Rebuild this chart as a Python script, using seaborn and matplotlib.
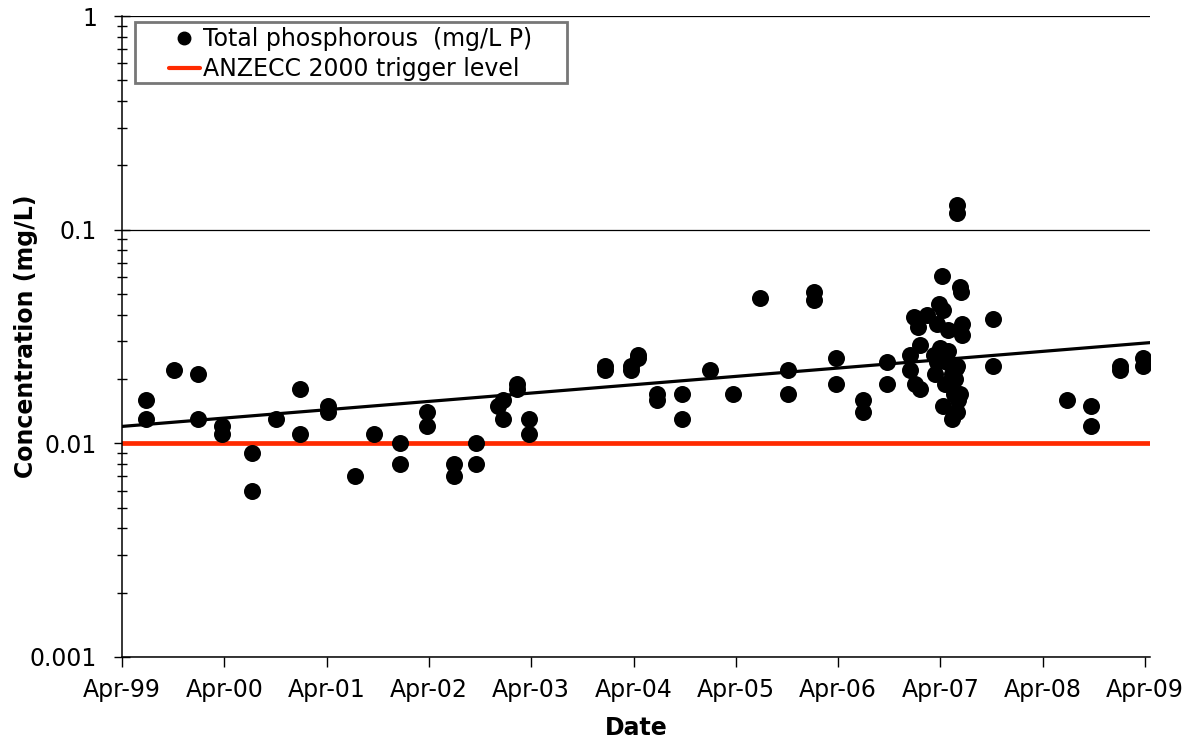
import matplotlib
matplotlib.use("Agg")
import matplotlib.pyplot as plt
import matplotlib.dates as mdates
import matplotlib.ticker as mticker
from matplotlib.lines import Line2D
from matplotlib.patches import Rectangle
import seaborn as sns
import pandas as pd
import numpy as np

# ---------------- data ----------------
sample_dates = [
    "1999-06-25", "1999-06-25", "1999-10-05", "1999-12-27", "1999-12-27",
    "2000-03-23", "2000-03-23", "2000-07-10", "2000-07-10", "2000-10-02",
    "2000-12-27", "2000-12-27", "2001-04-04", "2001-04-04", "2001-07-12",
    "2001-09-18", "2001-12-18", "2001-12-18", "2002-03-25", "2002-03-25",
    "2002-07-01", "2002-07-01", "2002-09-16", "2002-09-16", "2002-12-05",
    "2002-12-23", "2002-12-23", "2003-02-09", "2003-02-09", "2003-03-23",
    "2003-03-23", "2003-12-21", "2003-12-21", "2004-03-22", "2004-03-22",
    "2004-04-16", "2004-04-16", "2004-06-23", "2004-06-23", "2004-09-20",
    "2004-09-20", "2004-12-28", "2005-03-21", "2005-06-27", "2005-10-03",
    "2005-10-03", "2006-01-05", "2006-01-05", "2006-03-25", "2006-03-25",
    "2006-06-30", "2006-06-30", "2006-09-22", "2006-09-22", "2006-12-14",
    "2006-12-14", "2006-12-30", "2007-01-01", "2007-01-13", "2007-01-19",
    "2007-01-19", "2007-02-12", "2007-03-08", "2007-03-13", "2007-03-20",
    "2007-03-20", "2007-03-26", "2007-04-01", "2007-04-07", "2007-04-12",
    "2007-04-12", "2007-04-18", "2007-04-24", "2007-04-30", "2007-04-30",
    "2007-05-12", "2007-05-12", "2007-05-20", "2007-05-25", "2007-05-28",
    "2007-05-30", "2007-05-30", "2007-05-31", "2007-05-31", "2007-06-05",
    "2007-06-11", "2007-06-11", "2007-06-14", "2007-06-17", "2007-06-17",
    "2007-10-05", "2007-10-05", "2008-06-26", "2008-09-19", "2008-09-19",
    "2009-01-03", "2009-01-03", "2009-03-26", "2009-03-26",
]
total_phosphorous = [
    0.016, 0.013, 0.022, 0.021, 0.013,
    0.012, 0.011, 0.009, 0.006, 0.013,
    0.018, 0.011, 0.015, 0.014, 0.007,
    0.011, 0.010, 0.008, 0.014, 0.012,
    0.008, 0.007, 0.010, 0.008, 0.015,
    0.016, 0.013, 0.019, 0.018, 0.013,
    0.011, 0.023, 0.022, 0.022, 0.023,
    0.026, 0.025, 0.017, 0.016, 0.017,
    0.013, 0.022, 0.017, 0.048, 0.022,
    0.017, 0.051, 0.047, 0.025, 0.019,
    0.016, 0.014, 0.024, 0.019, 0.026,
    0.022, 0.039, 0.019, 0.035, 0.029,
    0.018, 0.040, 0.026, 0.021, 0.036,
    0.024, 0.045, 0.028, 0.061, 0.042,
    0.015, 0.019, 0.024, 0.034, 0.027,
    0.021, 0.013, 0.017, 0.020, 0.0226,
    0.023, 0.014, 0.130, 0.120, 0.016,
    0.054, 0.017, 0.051, 0.036, 0.032,
    0.038, 0.023, 0.016, 0.015, 0.012,
    0.023, 0.022, 0.025, 0.023,
]
trigger_level = 0.01
trend_dates = ["1999-04-01", "2009-04-19"]
trend_values = [0.0120, 0.0296]

x_limits = ["1999-04-01", "2009-04-19"]
y_limits = [0.001, 1]
y_tick_values = [0.001, 0.01, 0.1, 1]
y_tick_labels = ["0.001", "0.01", "0.1", "1"]

df = pd.DataFrame({"Date": pd.to_datetime(sample_dates),
                   "TP": total_phosphorous})
trend_df = pd.DataFrame({"Date": pd.to_datetime(trend_dates),
                         "TP": trend_values})

# ---------------- plot ----------------
sns.set_style("white")
plt.rcParams["font.family"] = ["DejaVu Sans"]
plt.rcParams["text.color"] = "black"
plt.rcParams["axes.labelcolor"] = "black"
plt.rcParams["xtick.color"] = "black"
plt.rcParams["ytick.color"] = "black"

fig = plt.figure(figsize=(11.97, 7.41), dpi=100)
ax = fig.add_axes([122 / 1197, 1 - 657 / 741, 1028 / 1197, 641 / 741])

ax.set_yscale("log")
ax.set_ylim(*y_limits)
ax.set_xlim(pd.to_datetime(x_limits[0]), pd.to_datetime(x_limits[1]))

ax.yaxis.grid(True, which="major", color="black", linewidth=0.9, zorder=0)
ax.axhline(trigger_level, color="#FF2A00", linewidth=3.4, zorder=2)

sns.scatterplot(data=df, x="Date", y="TP", ax=ax, color="black", s=150,
                edgecolor="black", linewidth=0, zorder=3, legend=False)
sns.lineplot(data=trend_df, x="Date", y="TP", ax=ax, color="black",
             linewidth=2.3, zorder=4)

# spines
for s in ["top", "right"]:
    ax.spines[s].set_visible(False)
for s in ["left", "bottom"]:
    ax.spines[s].set_color("black")
    ax.spines[s].set_linewidth(1.1)

# ticks
ax.xaxis.set_major_locator(mdates.MonthLocator(bymonth=4, bymonthday=1))
ax.xaxis.set_major_formatter(mdates.DateFormatter("%b-%y"))
ax.yaxis.set_major_locator(mticker.FixedLocator(y_tick_values))
ax.yaxis.set_major_formatter(mticker.FixedFormatter(y_tick_labels))
ax.yaxis.set_minor_locator(mticker.LogLocator(base=10, subs=np.arange(2, 10)))
ax.yaxis.set_minor_formatter(mticker.NullFormatter())

ax.tick_params(axis="x", which="major", direction="out", length=7, width=1,
               color="black", labelcolor="black", labelsize=17, pad=8, bottom=True)
ax.tick_params(axis="y", which="major", direction="inout", length=12, width=1,
               color="black", labelcolor="black", labelsize=17, pad=12, left=True)
ax.tick_params(axis="y", which="minor", direction="inout", length=7, width=1,
               color="black", left=True)

ax.set_xlabel("Date", fontsize=17, fontweight="bold", color="black")
ax.set_ylabel("Concentration (mg/L)", fontsize=17, fontweight="bold", color="black")
ax.xaxis.set_label_coords(0.5, -0.092)
ax.yaxis.set_label_coords(-0.082, 0.5)

# legend
frame = Rectangle((13 / 1028, (657 - 83) / 641), (567 - 135) / 1028, 61 / 641,
                  transform=ax.transAxes, facecolor="white", edgecolor="#777777",
                  linewidth=2, zorder=5)
ax.add_patch(frame)
handles = [
    Line2D([], [], linestyle="none", marker="o", color="black", markersize=9),
    Line2D([], [], color="#FF2A00", linewidth=3),
]
leg = ax.legend(handles, ["Total phosphorous  (mg/L P)", "ANZECC 2000 trigger level"],
                loc="upper left", bbox_to_anchor=((169 - 122) / 1028, (657 - 27) / 641),
                frameon=False, fontsize=17, handlelength=1.3, handletextpad=0.15,
                borderpad=0, borderaxespad=0, labelspacing=0.25)
leg.set_zorder(6)
for t in leg.get_texts():
    t.set_color("black")

fig.savefig("out.png", dpi=100)
